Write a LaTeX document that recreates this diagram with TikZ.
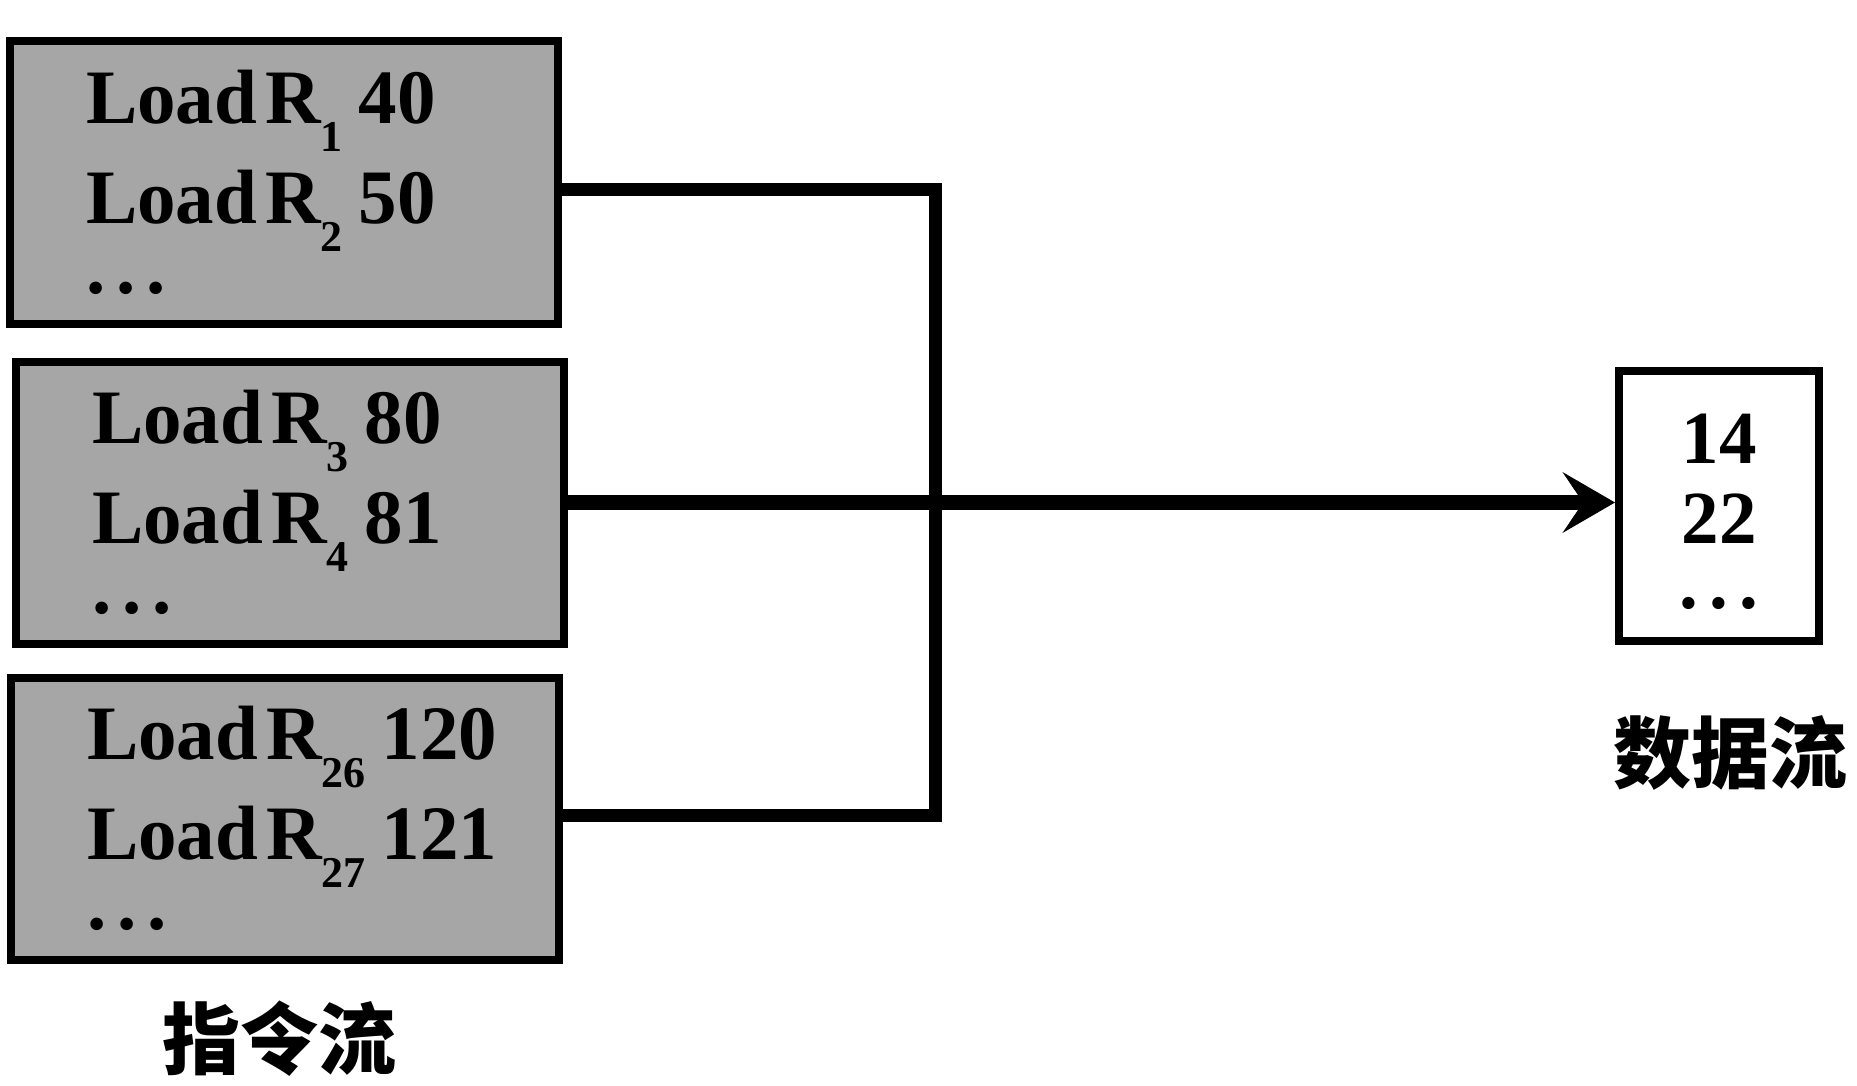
\documentclass[tikz,border=0pt]{standalone}
\usepackage{fontspec}
\setmainfont{Liberation Serif}
\newfontfamily\cjk{Noto Sans CJK SC}
\usetikzlibrary{arrows.meta, positioning}
\newcommand\rsub[1]{\raisebox{-0.36em}{\fontsize{44}{44}\selectfont #1}}
\newcommand\loadr[2]{Load\kern8pt R\rsub{#1}\kern16pt #2}
\newcommand\threedots{.\kern11pt.\kern11pt.}

\begin{document}
\begin{tikzpicture}[x=1pt,y=-1pt,node distance=30pt,
 instr node/.style={rectangle,draw,line width=8pt,fill=black!35,
  minimum width=548pt,minimum height=282pt,inner xsep=76pt,
  text width=396pt,align=left,font=\bfseries\fontsize{77}{100}\selectfont},
 data node/.style={rectangle,draw,line width=8pt,fill=white,
  minimum width=200pt,minimum height=270pt,align=center,
  font=\bfseries\fontsize{75}{80}\selectfont},
 flow label/.style={font=\cjk\bfseries\fontsize{78}{78}\selectfont,inner sep=0pt}]
  \fill[white] (0,0) rectangle (1857,1086);
  \useasboundingbox (0,0) rectangle (1857,1086);

  \node[instr node] (i1) at (284,182.5) {\loadr{1}{40}\\\loadr{2}{50}\\[-30pt]\threedots};
  \node[instr node] (i2) [below=of i1, xshift=6pt] {\loadr{3}{80}\\\loadr{4}{81}\\[-30pt]\threedots};
  \node[instr node] (i3) [below=26pt of i2, xshift=-5pt] {\loadr{26}{120}\\\loadr{27}{121}\\[-30pt]\threedots};
  \node[data node] (d) at (1719,506) {\rule{0pt}{62pt}14\\22\\[-15pt]\threedots};
  \node[flow label] (il) at (279,1039) {指令流};
  \node[flow label] (dl) at (1730,753) {数据流};

  \coordinate (bus) at (935,505);
  \foreach \s/\dy in {i1/-7, i3/3} {
   \draw[line width=13pt] ([yshift=\dy pt]\s.east) -| (bus);}
  \draw[line width=15pt,-{Stealth[length=52pt,width=60pt,inset=20pt]}] (i2.east) -- (i2.east -| d.west);
\end{tikzpicture}
\end{document}
